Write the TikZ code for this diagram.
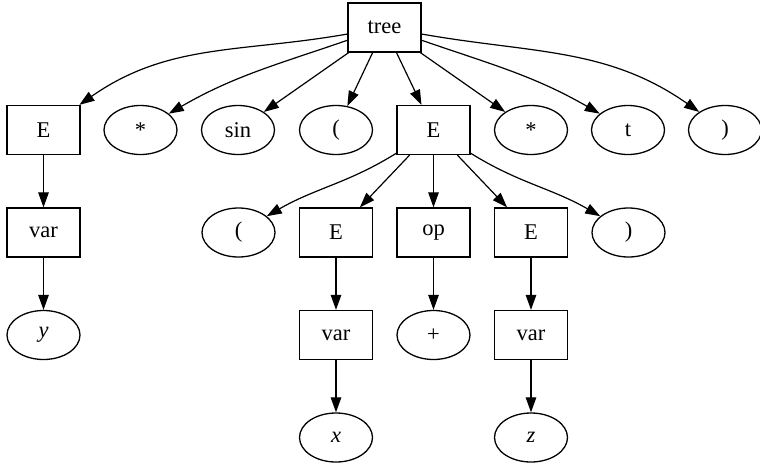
\documentclass[tikz,border=0pt]{standalone}
\usepackage{fontspec}
\setmainfont{Liberation Serif}
\usetikzlibrary{arrows.meta,shapes.geometric}
\begin{document}
\begin{tikzpicture}[x=1pt,y=1pt,
  every node/.style={font=\fontsize{22.5}{27}\selectfont, inner sep=0pt, line width=1.3pt, draw=black},
  boxnode/.style={rectangle, minimum width=73pt, minimum height=49pt},
  ellnode/.style={ellipse, minimum width=73pt, minimum height=49pt},
  edge/.style={line width=1.2pt, -{Triangle[length=15pt,width=10.5pt]}}]
\useasboundingbox (0,0) rectangle (760,-466);
% row 1
\node[boxnode] (tree) at (384.5,-27.5) {tree};
% row 2
\node[boxnode] (E1) at (43.5,-130) {E};
\node[ellnode] (s1) at (140.5,-130) {*};
\node[ellnode] (sin) at (238,-130) {sin};
\node[ellnode] (lp1) at (336,-130) {(};
\node[boxnode] (E2) at (433.5,-130) {E};
\node[ellnode] (s2) at (531,-130) {*};
\node[ellnode] (t) at (628,-130) {t};
\node[ellnode] (rp1) at (725,-130) {)};
% row 3
\node[boxnode] (var1) at (43.5,-232.5) {var};
\node[ellnode] (lp2) at (238.5,-232.5) {(};
\node[boxnode] (E3) at (336,-232.5) {E};
\node[boxnode] (op) at (433.5,-232.5) {op};
\node[boxnode] (E4) at (531,-232.5) {E};
\node[ellnode] (rp2) at (628.5,-232.5) {)};
% row 4
\node[ellnode] (y) at (43.5,-335) {\textit{y}};
\node[boxnode] (var2) at (336,-335) {var};
\node[ellnode] (plus) at (433.5,-335) {+};
\node[boxnode] (var3) at (531,-335) {var};
% row 5
\node[ellnode] (x) at (336,-437.5) {\textit{x}};
\node[ellnode] (z) at (531,-437.5) {\textit{z}};
% edges from tree
\draw[edge] (tree) to[out=190,in=35] (E1);
\draw[edge] (tree) to[out=199,in=30] (s1);
\draw[edge] (tree) -- (sin);
\draw[edge] (tree) -- (lp1);
\draw[edge] (tree) -- (E2);
\draw[edge] (tree) -- (s2);
\draw[edge] (tree) to[out=-19,in=150] (t);
\draw[edge] (tree) to[out=-10,in=145] (rp1);
% edges from E2
\draw[edge] (E2) to[out=212,in=30] (lp2);
\draw[edge] (E2) -- (E3);
\draw[edge] (E2) -- (op);
\draw[edge] (E2) -- (E4);
\draw[edge] (E2) to[out=-32,in=150] (rp2);
% vertical chains
\draw[edge] (E1) -- (var1);
\draw[edge] (var1) -- (y);
\draw[edge] (E3) -- (var2);
\draw[edge] (var2) -- (x);
\draw[edge] (op) -- (plus);
\draw[edge] (E4) -- (var3);
\draw[edge] (var3) -- (z);
\end{tikzpicture}
\end{document}
